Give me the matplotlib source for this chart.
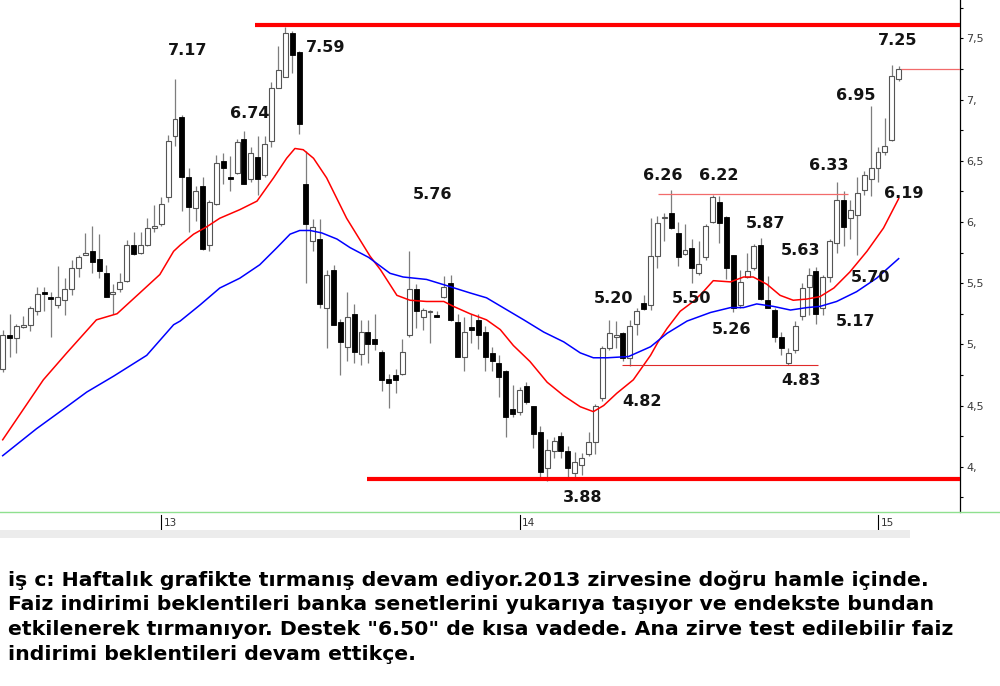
import matplotlib
matplotlib.use("Agg")
import matplotlib.pyplot as plt
import matplotlib.transforms as mtransforms
from matplotlib.lines import Line2D
from matplotlib.patches import Rectangle
import numpy as np

# ---- weekly OHLC, oldest first ----
opens = [4.80, 5.08, 5.05, 5.14, 5.16, 5.27, 5.43, 5.39, 5.32, 5.36,
         5.45, 5.62, 5.73, 5.76, 5.70, 5.58, 5.41, 5.45, 5.52, 5.81,
         5.75, 5.81, 5.95, 5.98, 6.20, 6.70, 6.86, 6.37, 6.11, 6.29,
         5.81, 6.15, 6.50, 6.37, 6.40, 6.68, 6.35, 6.53, 6.38, 6.66,
         7.09, 7.18, 7.54, 7.39, 6.31, 5.84, 5.86, 5.30, 5.61, 5.18,
         4.98, 5.25, 4.92, 5.10, 5.04, 4.94, 4.72, 4.75, 4.76, 5.08,
         5.45, 5.22, 5.26, 5.24, 5.39, 5.50, 5.18, 4.90, 5.14, 5.20,
         5.10, 4.93, 4.85, 4.78, 4.47, 4.45, 4.66, 4.50, 4.28, 3.99,
         4.13, 4.25, 4.13, 3.95, 4.01, 4.10, 4.20, 4.56, 4.97, 5.06,
         5.09, 4.89, 5.17, 5.34, 5.32, 5.72, 6.03, 6.07, 5.91, 5.74,
         5.79, 5.58, 5.71, 6.00, 6.16, 6.04, 5.73, 5.32, 5.55, 5.62,
         5.81, 5.36, 5.28, 5.06, 4.85, 4.95, 5.23, 5.47, 5.60, 5.30,
         5.55, 5.83, 6.18, 6.03, 6.06, 6.26, 6.35, 6.44, 6.57, 6.67,
         7.17]
highs = [5.12, 5.25, 5.17, 5.23, 5.31, 5.47, 5.47, 5.43, 5.64, 5.54,
         5.69, 5.73, 5.91, 5.97, 5.90, 5.65, 5.49, 5.58, 5.85, 5.92,
         5.92, 6.03, 6.14, 6.20, 6.71, 7.17, 6.87, 6.44, 6.29, 6.37,
         6.18, 6.55, 6.56, 6.54, 6.68, 6.74, 6.61, 6.70, 6.70, 7.14,
         7.44, 7.59, 7.56, 7.40, 6.58, 6.02, 6.02, 5.61, 5.65, 5.21,
         5.43, 5.33, 5.20, 5.20, 5.25, 4.95, 4.76, 4.80, 5.04, 5.76,
         5.49, 5.30, 5.28, 5.27, 5.56, 5.57, 5.25, 5.22, 5.25, 5.25,
         5.15, 4.98, 4.91, 4.79, 4.67, 4.65, 4.69, 4.50, 4.33, 4.23,
         4.24, 4.28, 4.17, 4.12, 4.11, 4.28, 4.51, 4.99, 5.20, 5.19,
         5.10, 5.20, 5.30, 5.40, 6.03, 6.05, 6.07, 6.26, 6.00, 5.98,
         5.86, 5.84, 5.98, 6.22, 6.21, 6.05, 5.73, 5.61, 5.75, 5.82,
         5.87, 5.56, 5.30, 5.10, 4.97, 5.19, 5.50, 5.62, 5.63, 5.57,
         5.86, 6.33, 6.25, 6.18, 6.37, 6.42, 6.95, 6.61, 6.85, 7.28,
         7.27]
lows = [4.77, 4.90, 4.93, 5.13, 5.11, 5.24, 5.27, 5.06, 5.30, 5.24,
        5.40, 5.55, 5.73, 5.58, 5.54, 5.39, 5.25, 5.43, 5.51, 5.73,
        5.74, 5.80, 5.92, 5.97, 6.16, 6.62, 6.09, 5.92, 6.01, 5.77,
        5.76, 6.14, 6.31, 6.25, 6.39, 6.31, 6.33, 6.22, 6.37, 6.61,
        7.09, 7.18, 7.22, 6.72, 5.50, 5.76, 5.30, 4.97, 5.16, 4.75,
        4.86, 4.85, 4.83, 4.85, 4.95, 4.62, 4.48, 4.60, 4.75, 5.06,
        5.13, 5.12, 5.01, 5.22, 5.38, 5.19, 4.90, 4.78, 5.01, 4.96,
        4.78, 4.78, 4.57, 4.24, 4.41, 4.42, 4.51, 4.15, 3.90, 3.88,
        4.07, 4.07, 3.92, 3.91, 3.93, 4.09, 4.10, 4.54, 4.95, 4.97,
        4.86, 4.82, 5.08, 5.28, 5.28, 5.62, 5.84, 5.94, 5.64, 5.73,
        5.50, 5.57, 5.69, 5.99, 5.83, 5.53, 5.26, 5.30, 5.54, 5.61,
        5.36, 5.30, 5.02, 4.91, 4.83, 4.93, 5.20, 5.24, 5.17, 5.24,
        5.51, 5.75, 5.80, 5.86, 5.73, 6.22, 6.21, 6.33, 6.55, 6.66,
        7.15]
closes = [5.08, 5.05, 5.15, 5.16, 5.30, 5.41, 5.41, 5.37, 5.39, 5.45,
          5.62, 5.71, 5.74, 5.67, 5.60, 5.39, 5.43, 5.51, 5.81, 5.74,
          5.81, 5.95, 5.97, 6.15, 6.66, 6.84, 6.37, 6.12, 6.25, 5.78,
          6.16, 6.48, 6.44, 6.35, 6.65, 6.31, 6.56, 6.35, 6.64, 7.09,
          7.24, 7.54, 7.36, 6.80, 5.98, 5.96, 5.33, 5.57, 5.16, 5.02,
          5.22, 4.94, 5.10, 5.00, 5.00, 4.71, 4.68, 4.71, 4.94, 5.45,
          5.27, 5.28, 5.27, 5.22, 5.47, 5.20, 4.90, 5.10, 5.12, 5.08,
          4.90, 4.86, 4.73, 4.41, 4.43, 4.63, 4.53, 4.27, 3.96, 4.14,
          4.21, 4.13, 3.99, 4.04, 4.07, 4.20, 4.50, 4.97, 5.09, 5.07,
          4.89, 5.15, 5.27, 5.29, 5.72, 5.99, 6.04, 5.95, 5.71, 5.77,
          5.62, 5.66, 5.97, 6.20, 5.99, 5.62, 5.30, 5.51, 5.60, 5.80,
          5.37, 5.30, 5.06, 4.97, 4.93, 5.15, 5.46, 5.57, 5.25, 5.55,
          5.84, 6.18, 5.96, 6.10, 6.24, 6.38, 6.44, 6.57, 6.62, 7.19,
          7.25]

# ---- moving averages (week number, value) ----
fast_ma_week = [0, 5.9, 9.3, 13.6, 16.6, 19.9, 22.8, 24.8, 25.75, 27.7,
                29.6, 31.5, 34.4, 36.9, 39.3, 41.2, 42.4, 43.6, 45.1, 47.0,
                49.9, 53.3, 54.8, 57.2, 59.1, 61.5, 64.0, 65.4, 67.8, 70.2,
                72.2, 74.1, 76.5, 79.0, 81.4, 83.8, 85.7, 87.2, 89.1, 91.5,
                94.0, 95.1, 96.4, 98.3, 100.2, 101.5, 103.1, 105.6, 107.5, 108.9,
                110.9, 112.8, 114.7, 116.7, 118.6, 120.6, 122.9, 125.4, 127.8, 130]
fast_ma_value = [4.22, 4.71, 4.93, 5.20, 5.25, 5.42, 5.57, 5.76, 5.81, 5.90,
                 5.96, 6.03, 6.10, 6.17, 6.36, 6.52, 6.60, 6.59, 6.52, 6.36,
                 6.03, 5.72, 5.61, 5.40, 5.36, 5.35, 5.35, 5.31, 5.25, 5.20,
                 5.12, 4.99, 4.86, 4.69, 4.58, 4.49, 4.45, 4.50, 4.60, 4.71,
                 4.91, 5.02, 5.13, 5.27, 5.35, 5.42, 5.52, 5.51, 5.55, 5.55,
                 5.49, 5.40, 5.36, 5.37, 5.39, 5.46, 5.59, 5.76, 5.95, 6.19]
slow_ma_week = [0, 4.9, 9.3, 12.2, 16.1, 20.9, 24.8, 25.75, 28.6, 31.5,
                34.4, 37.3, 39.8, 41.7, 43.1, 44.6, 46.3, 48.5, 50.4, 53.1,
                56.2, 58.1, 61.5, 64.4, 67.8, 70.2, 73.2, 75.6, 78.5, 81.4,
                83.8, 85.7, 87.7, 90.8, 94.0, 96.4, 99.3, 102.7, 105.6, 107.5,
                109.4, 111.8, 114.3, 116.7, 118.6, 121.0, 123.9, 126.8, 130]
slow_ma_value = [4.09, 4.31, 4.49, 4.61, 4.74, 4.91, 5.16, 5.19, 5.32, 5.46,
                 5.54, 5.65, 5.79, 5.90, 5.93, 5.93, 5.91, 5.86, 5.79, 5.71,
                 5.58, 5.55, 5.53, 5.48, 5.42, 5.38, 5.28, 5.20, 5.10, 5.02,
                 4.93, 4.89, 4.89, 4.90, 4.98, 5.09, 5.19, 5.26, 5.30, 5.30,
                 5.33, 5.31, 5.28, 5.30, 5.31, 5.35, 5.43, 5.54, 5.70]

# ---- horizontal levels ----
resistance_2013 = 7.61
support_2014 = 3.90
range_top = 6.23
range_bottom = 4.83

# ---- axis labels ----
y_ticks = [4.0, 4.5, 5.0, 5.5, 6.0, 6.5, 7.0, 7.5]
y_tick_labels = ["4,", "4,5", "5,", "5,5", "6,", "6,5", "7,", "7,5"]
year_labels = ["13", "14", "15"]
year_first_week = [23, 75, 127]

note_lines = [
    "iş c: Haftalık grafikte tırmanış devam ediyor.2013 zirvesine doğru hamle içinde.",
    "Faiz indirimi beklentileri banka senetlerini yukarıya taşıyor ve endekste bundan",
    "etkilenerek tırmanıyor. Destek \"6.50\" de kısa vadede. Ana zirve test edilebilir faiz",
    "indirimi beklentileri devam ettikçe.",
]

o = np.array(opens); h = np.array(highs); l = np.array(lows); c = np.array(closes)
n = len(c)
weeks = np.arange(n)
rising = c >= o

W, H = 1000, 686
fig = plt.figure(figsize=(W / 100, H / 100), dpi=100, facecolor="white")
ax = fig.add_axes([0, 1 - 512 / H, 960 / W, 512 / H])
ax.set_facecolor("white")
x_left, x_right = -0.39, 138.9
ax.set_xlim(x_left, x_right)
ax.set_ylim(3.630, 7.813)

# candles
ax.vlines(weeks, l, h, color="#7d7d7d", lw=0.9, zorder=2)
body_low = np.minimum(o, c)
body_h = np.maximum(np.abs(c - o), 0.012)
ax.bar(weeks[rising], body_h[rising], bottom=body_low[rising], width=0.72,
       facecolor="white", edgecolor="#555555", lw=0.8, zorder=3)
ax.bar(weeks[~rising], body_h[~rising], bottom=body_low[~rising], width=0.72,
       facecolor="black", edgecolor="black", lw=0.6, zorder=3)

# moving averages
ax.plot(fast_ma_week, fast_ma_value, color="#ff0000", lw=1.1, zorder=4)
ax.plot(slow_ma_week, slow_ma_value, color="#0000ff", lw=1.1, zorder=4)

# levels
ax.hlines(resistance_2013, 36.6, x_right, color="#ff0000", lw=3.0, zorder=5)
ax.hlines(support_2014, 52.9, x_right, color="#ff0000", lw=3.0, zorder=5)
ax.hlines(range_top, 95.1, 122.7, color="#f26b6b", lw=0.9, zorder=5)
ax.hlines(range_bottom, 89.9, 118.3, color="#e02a2a", lw=0.8, zorder=5)
ax.hlines(c[-1], n - 1 + 0.4, x_right, color="#f26b6b", lw=0.9, zorder=5)

# value annotations: (text, x, y)
annotations = [
    (f"{h[25]:.2f}", 26.9, 7.404),
    (f"{h[35]:.2f}", 35.9, 6.882),
    (f"{h[41]:.2f}", 46.9, 7.421),
    (f"{h[59]:.2f}", 62.3, 6.220),
    (f"{h[97]:.2f}", 95.8, 6.383),
    (f"{h[103]:.2f}", 103.9, 6.383),
    (f"{h[88]:.2f}", 88.7, 5.378),
    (f"{l[100]:.2f}", 99.9, 5.378),
    (f"{l[106]:.2f}", 105.8, 5.117),
    (f"{h[110]:.2f}", 110.7, 5.991),
    (f"{h[118]:.2f}", 115.8, 5.770),
    (f"{l[91]:.2f}", 92.8, 4.529),
    (f"{l[114]:.2f}", 115.8, 4.708),
    (f"{l[79]:.2f}", 84.1, 3.752),
    (f"{h[121]:.2f}", 119.9, 6.457),
    (f"{h[126]:.2f}", 123.8, 7.029),
    (f"{c[-1]:.2f}", 129.8, 7.486),
    (f"{fast_ma_value[-1]:.2f}", 130.8, 6.236),
    (f"{slow_ma_value[-1]:.2f}", 125.9, 5.542),
    (f"{l[118]:.2f}", 123.8, 5.190),
]
for txt, xx, yy in annotations:
    ax.text(xx, yy, txt, ha="center", va="center", fontsize=11.5,
            fontweight="bold", color="#141414", family="DejaVu Sans", zorder=6)

# right price axis
for side in ("left", "top", "bottom"):
    ax.spines[side].set_visible(False)
ax.spines["right"].set_color("black")
ax.spines["right"].set_linewidth(0.9)
ax.yaxis.tick_right()
ax.set_yticks(y_ticks)
ax.set_yticklabels(y_tick_labels)
ax.set_yticks(np.arange(3.75, 7.8, 0.5), minor=True)
ax.tick_params(axis="y", which="both", direction="out", length=2.5, width=0.8,
               color="black", pad=2, labelsize=8, labelcolor="#3a3a3a")
ax.set_xticks([])

# time axis below the plot
trans = mtransforms.blended_transform_factory(ax.transData, ax.transAxes)
for wk, lab in zip(year_first_week, year_labels):
    ax.plot([wk, wk], [-0.006, -0.034], transform=trans, color="black",
            lw=0.8, clip_on=False)
    ax.text(wk + 0.35, -0.012, lab, transform=trans, ha="left", va="top",
            fontsize=7.5, color="#333333", clip_on=False)

fig.add_artist(Rectangle((0, 1 - 538 / H), 910 / W, 8 / H,
                         transform=fig.transFigure, facecolor="#ececec",
                         edgecolor="none", zorder=3))
fig.add_artist(Line2D([0, 1], [1 - 512 / H] * 2, transform=fig.transFigure,
                      color="#8fe08f", lw=1.0, zorder=4))

# commentary below the chart
note_font = dict(family="DejaVu Sans", weight="bold")
renderer = fig.canvas.get_renderer()
probe = fig.text(0, 0, note_lines[2], fontsize=20, **note_font)
probe_w = probe.get_window_extent(renderer).width
probe.remove()
note_size = 20 * 942 / probe_w

baselines = [586, 610.5, 635, 659.5]
for line, yb in zip(note_lines, baselines):
    fig.text(8 / W, 1 - yb / H, line, fontsize=note_size, va="baseline",
             ha="left", color="black", **note_font)

fig.savefig("out.png", dpi=100, facecolor="white")
